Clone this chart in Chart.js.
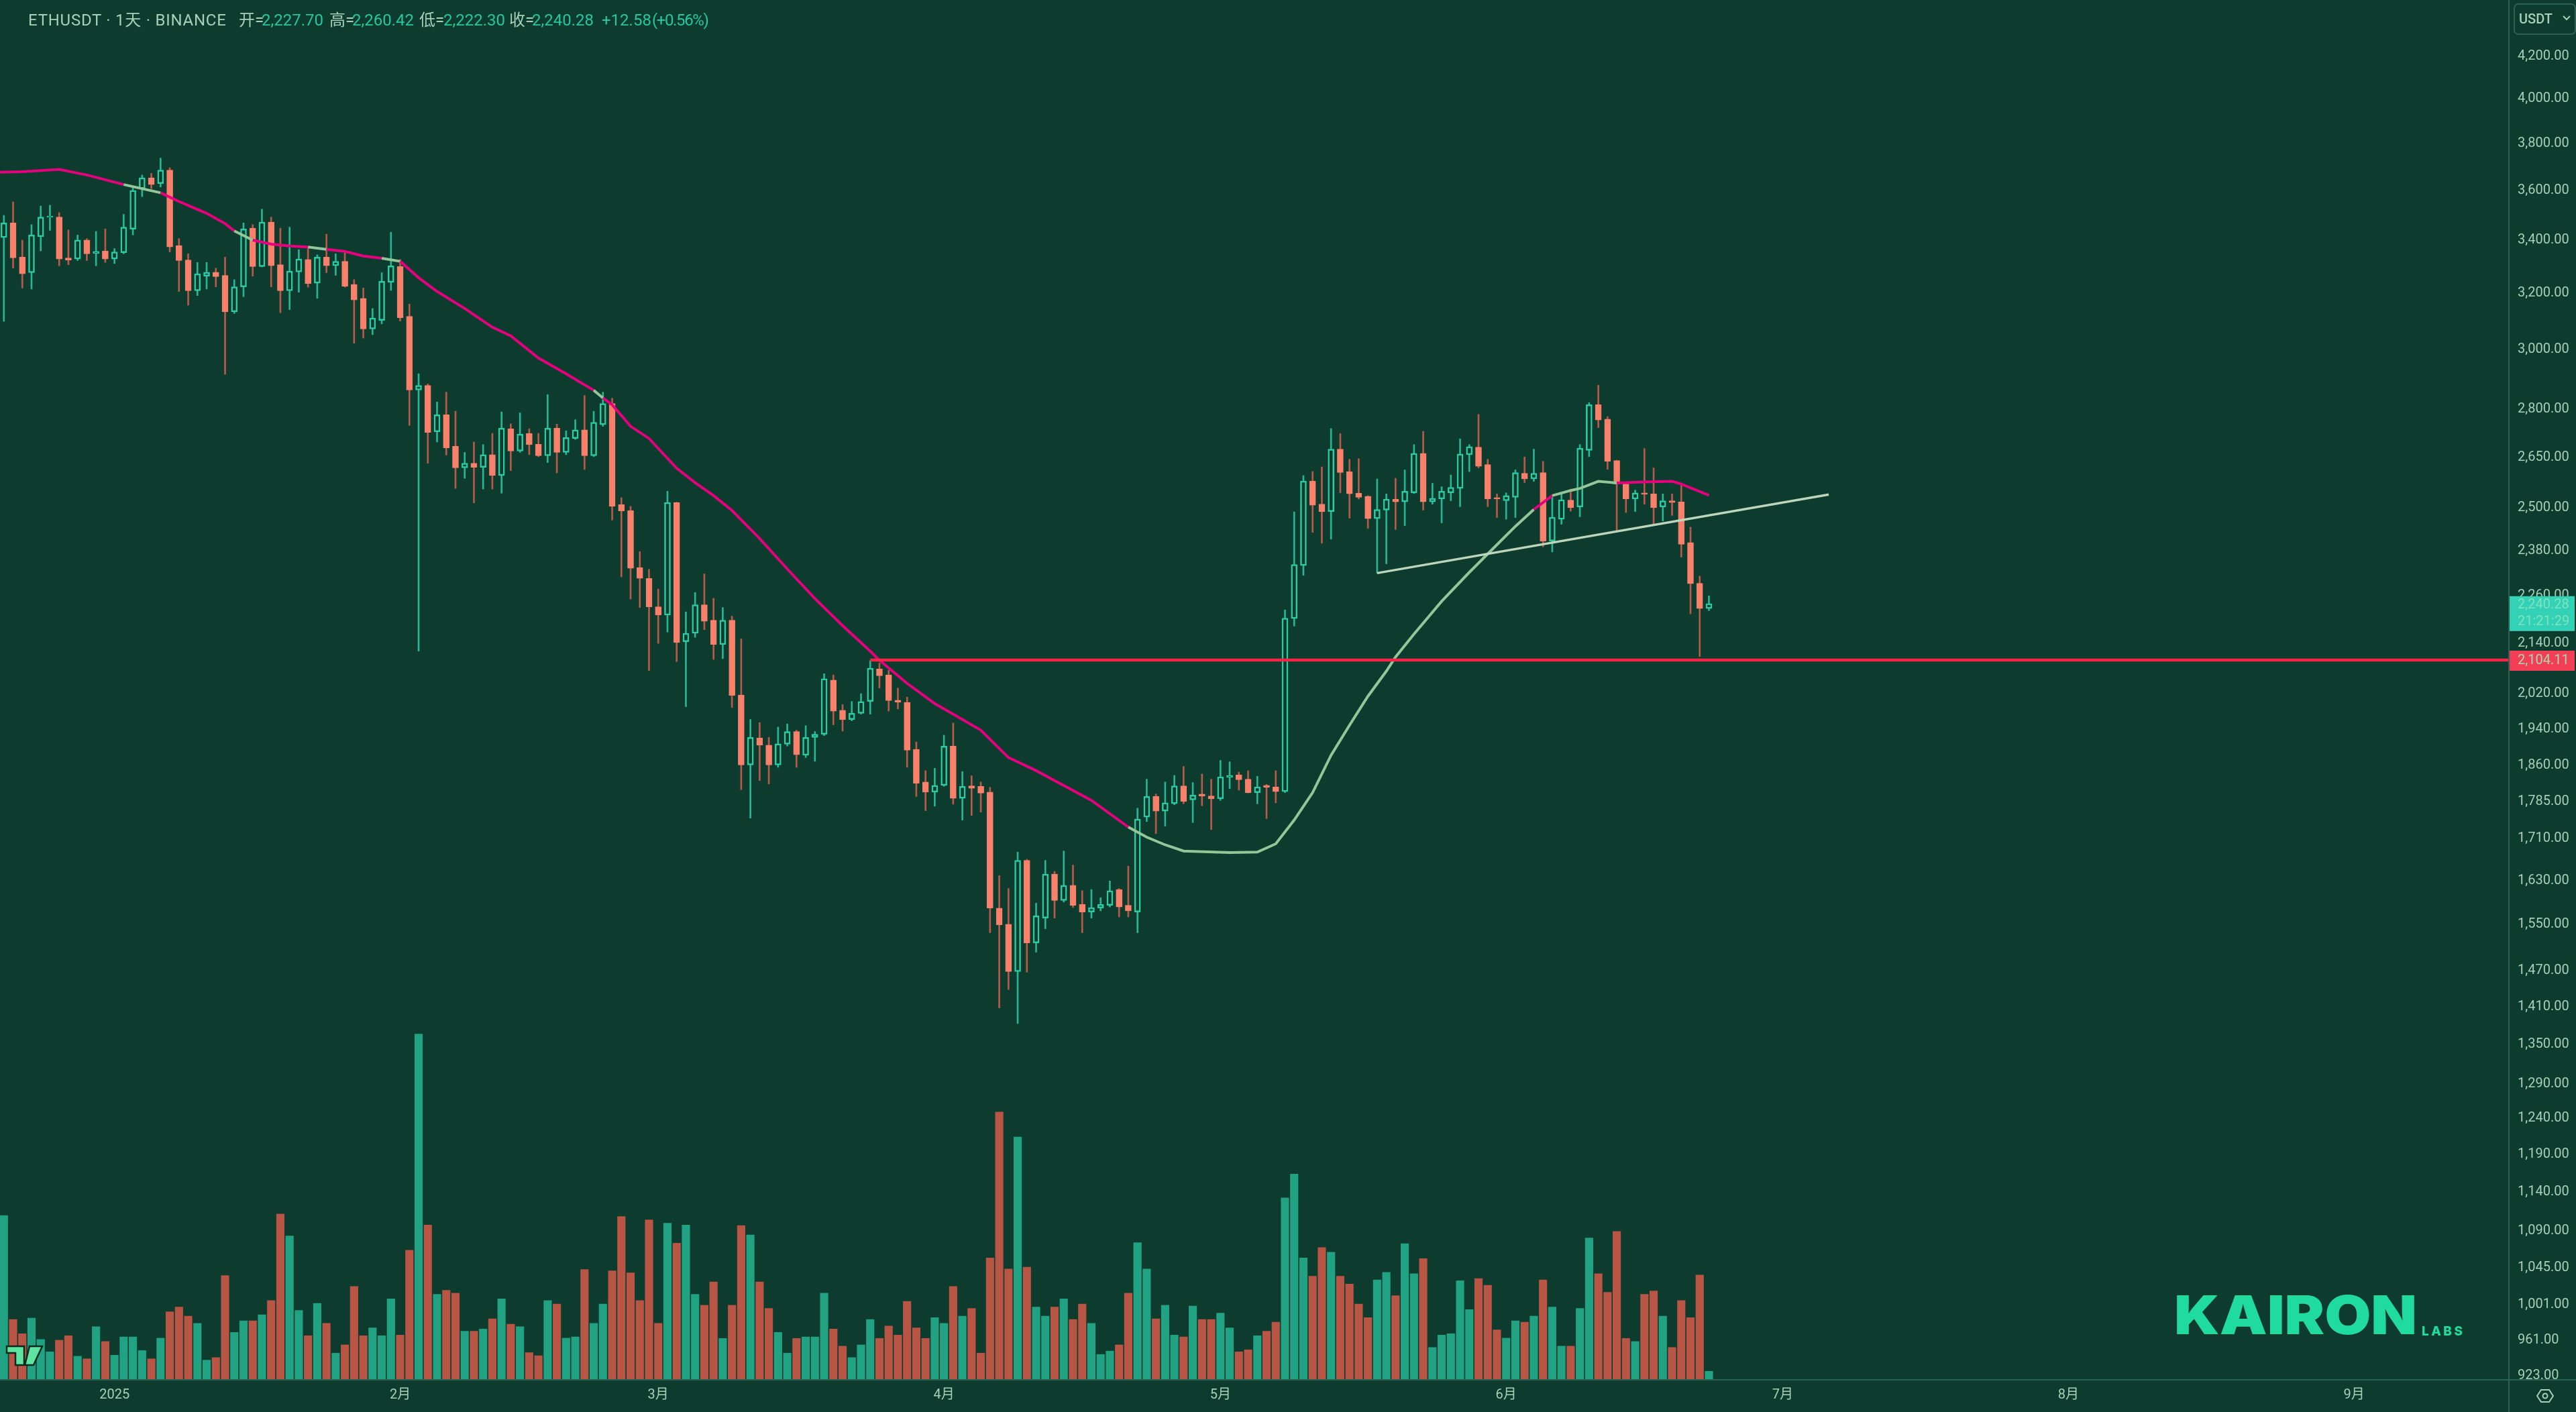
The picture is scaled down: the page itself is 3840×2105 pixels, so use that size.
<!DOCTYPE html>
<html>
<head>
<meta charset="utf-8">
<title>ETHUSDT</title>
<script src="https://cdn.jsdelivr.net/npm/chart.js@4"></script>
<style>
html, body { margin: 0; padding: 0; background: #0d3b2e; overflow: hidden; }
#wrap { position: relative; width: 3840px; height: 2105px; }
#priceChart { position: absolute; left: 0; top: 0; }
.hd { position: absolute; top: 15px; font: 24px Roboto, 'Noto Sans CJK SC', sans-serif; line-height: 30px; color: #a8d0b8; white-space: pre; }
.hd.v { color: #26c6a0; }
#unit { position: absolute; left: 3747px; top: 5px; width: 89px; height: 43px; border: 2px solid #2f6152; border-radius: 7px; box-sizing: content-box;
    font: 500 20px Roboto, sans-serif; color: #a8d0b8; line-height: 43px; text-indent: 6px; }
#brand { position: absolute; left: 3241px; top: 1914px; font: 900 80px Inter, sans-serif; color: #1fdc9e; line-height: 92px; white-space: pre; transform: scaleX(1.115); transform-origin: left center; }
#labs { position: absolute; left: 3610px; top: 1973px; font: 800 19px Inter, sans-serif; color: #1fdc9e; line-height: 24px; letter-spacing: 3.5px; }
svg { position: absolute; }
</style>
</head>
<body>
<div id="wrap">
    <canvas id="priceChart" width="3840" height="2105"></canvas>
    <span class="hd" style="left:42px;letter-spacing:0.75px">ETHUSDT · 1天 · BINANCE</span>
    <span class="hd" style="left:356px">开=</span><span class="hd v" style="left:390px">2,227.70</span>
    <span class="hd" style="left:491px">高=</span><span class="hd v" style="left:525px">2,260.42</span>
    <span class="hd" style="left:625px">低=</span><span class="hd v" style="left:661px">2,222.30</span>
    <span class="hd" style="left:759px">收=</span><span class="hd v" style="left:793px">2,240.28</span>
    <span class="hd v" style="left:897px">+12.58</span><span class="hd v" style="left:972px;letter-spacing:-1.4px">(+0.56%)</span>
    <div id="unit">USDT</div>
    <svg style="left:3820px;top:22px" width="12" height="10"><path d="M1 2 L6 7 L11 2" fill="none" stroke="#a8d0b8" stroke-width="2"/></svg>
    <div id="brand">KAIRON</div>
    <div id="labs">LABS</div>
    <svg style="left:6px;top:2004px" width="60" height="34"><path d="M4 3 H30 V31 H17 V13 H4 Z M38 3 H57 L44 31 H31 Z" fill="#5fe3a0" stroke="#0a2a20" stroke-width="2.5"/></svg>
    <svg style="left:3781px;top:2070px" width="26" height="22"><path d="M7 2 H19 L25 11 L19 20 H7 L1 11 Z" fill="none" stroke="#a8d0b8" stroke-width="2"/><circle cx="13" cy="11" r="3.5" fill="none" stroke="#a8d0b8" stroke-width="2"/></svg>
</div>
<script>
// daily candles, index 0 = 2024-12-20
const openPrices = [3411,3469,3335,3276,3414,3491,3492,3332,3328,3401,3349,3359,3328,3352,3444,3608,3653,3629,3686,3380,
    3324,3209,3263,3278,3266,3132,3223,3448,3299,3472,3306,3209,3279,3326,3237,3335,3302,3319,3232,3181,
    3071,3101,3240,3299,3116,2863,2878,2729,2783,2684,2618,2632,2620,2658,2595,2738,2669,2724,2690,2655,
    2740,2665,2708,2735,2655,2751,2819,2510,2493,2335,2306,2232,2211,2516,2144,2165,2237,2198,2137,2198,
    2017,1861,1920,1904,1861,1906,1934,1882,1921,1928,2052,1982,1961,1975,2002,2078,2064,2005,2000,1895,
    1825,1804,1818,1902,1791,1817,1816,1804,1579,1550,1468,1668,1517,1561,1642,1593,1621,1586,1572,1579,
    1584,1613,1584,1572,1753,1795,1765,1780,1817,1788,1800,1796,1790,1835,1840,1831,1803,1818,1815,1805,
    2202,2340,2579,2511,2490,2675,2607,2543,2534,2470,2494,2526,2518,2544,2662,2518,2526,2544,2557,2658,
    2681,2628,2530,2521,2531,2602,2585,2604,2407,2468,2523,2503,2671,2815,2769,2640,2570,2526,2544,2541,
    2503,2521,2518,2403,2293,2227.70];
const highPrices = [3499,3554,3401,3462,3537,3540,3510,3441,3421,3407,3435,3445,3368,3503,3619,3665,3672,3737,3696,3407,
    3348,3315,3315,3293,3335,3250,3469,3462,3524,3492,3448,3452,3364,3368,3344,3424,3348,3355,3250,3219,
    3144,3276,3432,3326,3160,2917,2883,2824,2856,2794,2665,2697,2689,2724,2792,2754,2789,2738,2724,2848,
    2753,2732,2767,2845,2794,2856,2836,2530,2505,2378,2330,2278,2549,2517,2219,2269,2318,2254,2230,2208,
    2151,1961,1954,1921,1944,1951,1937,1947,1934,2067,2064,1995,2002,2020,2098,2092,2075,2033,2012,1911,
    1849,1854,1926,1953,1847,1838,1825,1814,1639,1615,1684,1670,1588,1668,1647,1686,1659,1611,1613,1598,
    1629,1615,1657,1771,1831,1800,1825,1839,1858,1824,1842,1831,1871,1868,1846,1849,1837,1820,1849,2224,
    2489,2595,2607,2621,2739,2723,2644,2646,2536,2585,2541,2587,2612,2689,2730,2572,2562,2597,2707,2689,
    2784,2644,2541,2544,2612,2651,2675,2638,2531,2541,2555,2689,2822,2879,2777,2641,2573,2552,2677,2618,
    2541,2541,2567,2446,2312,2260.42];
const lowPrices = [3098,3293,3219,3215,3359,3439,3302,3306,3322,3322,3302,3315,3311,3348,3421,3575,3608,3615,3355,3206,
    3156,3191,3215,3223,2915,3126,3187,3263,3298,3223,3129,3140,3203,3222,3181,3276,3266,3222,3021,3039,
    3051,3089,3210,3099,2749,2121,2632,2697,2657,2557,2587,2515,2555,2555,2543,2610,2665,2658,2652,2634,
    2603,2658,2705,2613,2652,2746,2466,2310,2252,2230,2074,2140,2168,2096,1990,2155,2174,2101,2103,1988,
    1809,1751,1828,1821,1856,1902,1856,1877,1869,1925,1949,1935,1958,1973,1973,2033,1980,1985,1856,1795,
    1766,1775,1816,1779,1747,1756,1763,1535,1408,1438,1383,1467,1501,1542,1561,1590,1580,1535,1561,1574,
    1581,1563,1563,1535,1744,1720,1735,1778,1780,1742,1776,1728,1787,1811,1808,1802,1780,1750,1782,1803,
    2183,2314,2431,2401,2412,2544,2471,2526,2442,2320,2345,2439,2450,2542,2494,2511,2458,2521,2504,2607,
    2618,2504,2473,2468,2473,2574,2578,2391,2377,2454,2491,2475,2652,2742,2614,2437,2487,2490,2511,2454,
    2463,2479,2363,2214,2108,2222.30];
const closePrices = [3469,3332,3272,3421,3492,3496,3328,3324,3401,3348,3357,3328,3355,3452,3601,3653,3625,3686,3374,3322,
    3209,3272,3278,3261,3132,3223,3445,3299,3472,3302,3209,3282,3328,3235,3335,3302,3319,3225,3175,3071,
    3110,3244,3302,3111,2863,2878,2727,2783,2679,2618,2632,2620,2658,2595,2740,2669,2722,2689,2655,2740,
    2665,2711,2735,2655,2759,2819,2505,2492,2333,2306,2232,2211,2516,2142,2165,2237,2195,2137,2198,2016,
    1861,1921,1904,1861,1907,1934,1883,1921,1928,2055,1980,1961,1975,2002,2080,2062,2004,2000,1893,1822,
    1804,1818,1902,1791,1816,1812,1802,1579,1549,1468,1668,1517,1565,1642,1593,1621,1584,1572,1580,1586,
    1611,1581,1574,1749,1795,1765,1782,1817,1785,1798,1796,1790,1836,1839,1830,1803,1815,1814,1805,2203,
    2343,2579,2508,2490,2675,2604,2541,2531,2470,2496,2526,2518,2549,2662,2518,2528,2549,2560,2660,2683,
    2623,2526,2526,2536,2604,2585,2602,2407,2474,2524,2501,2678,2815,2766,2638,2570,2526,2544,2540,2501,
    2521,2516,2398,2292,2227.70,2240.28];
// traded volume in thousands, read against the bottom of the pane
const volumes = [635,233,178,238,156,108,153,170,91,81,205,148,95,166,166,113,81,161,263,281,
    246,218,76,86,403,183,228,228,251,306,641,556,268,170,295,218,103,135,361,170,
    201,170,313,173,501,1336,598,330,346,335,188,188,196,236,313,215,205,105,93,306,
    293,161,166,426,218,293,421,631,413,306,618,218,605,528,598,330,288,378,160,288,
    596,560,378,276,183,103,160,166,166,335,196,130,86,135,233,160,208,173,303,201,
    160,240,218,361,246,276,103,471,1035,428,938,435,281,246,281,313,233,293,218,98,
    111,135,335,530,428,236,288,173,166,285,233,233,258,201,108,116,170,188,223,703,
    795,471,400,511,493,400,370,293,240,386,415,325,526,410,468,125,173,178,383,271,
    391,365,193,161,228,223,246,386,281,130,130,276,548,410,338,573,160,148,330,343,
    246,125,306,240,405,33];

// moving average, vertices
const maIndex = [-1,2,6,9,13,17,19,22,24,25,27,29,31,33,35,37,39,41,43,45,47,50,53,55,58,61,64,65,66,68,70,73,75,77,79,82,85,88,91,94,95,98,101,102,106,109,112,118,122,124,126,128,133,136,138,140,142,144,146,148,150,151,153,156,159,162,164,166,168,170,171,173,175,178,181,182,185];
const maValues = [3676,3679,3689,3665,3625,3591,3555,3507,3466,3437,3401,3385,3378,3374,3365,3357,3339,3331,3319,3257,3206,3144,3077,3047,2970,2917,2862,2837,2815,2746,2708,2617,2574,2536,2493,2414,2331,2253,2184,2121,2099,2044,1997,1985,1937,1877,1849,1787,1733,1713,1698,1686,1683,1684,1700,1747,1803,1882,1948,2014,2073,2107,2163,2246,2322,2397,2448,2496,2536,2551,2557,2578,2573,2576,2578,2570,2537];
// index ranges where the average is drawn in its rising colour
const maRisingFrom = [13,25,33,41,64,122,168,170];
const maRisingTo = [17,27,35,43,65,166,169,175];

const trendIndex = [149,198];
const trendValues = [2320,2539];
const supportIndex = [94,272];
const supportValues = [2099.5,2099.5];

const yTickValues = [4200,4000,3800,3600,3400,3200,3000,2800,2650,2500,2380,2260,2140,2020,1940,1860,1785,1710,1630,1550,1470,1410,1350,1290,1240,1190,1140,1090,1045,1001,961,923];
const monthTickIndex = [12,43,71,102,132,163,193,224,255];
const monthTickLabels = ['2025','2月','3月','4月','5月','6月','7月','8月','9月'];
const supportLabel = '2,104.11';
const lastPriceLabel = '2,240.28';
const countdownLabel = '21:21:29';

const BG = '#0d3b2e';
const UP = '#2bcba3';
const UP_WICK = '#27b594';
const DOWN = '#f9806b';
const DOWN_WICK = '#b85a4b';
const VOL_UP = '#20a283';
const VOL_DOWN = '#b85545';
const AXIS = '#2f6152';
const PINK = '#e6007e';
const SAGE = '#93c698';
const SUPPORT = '#f5264a';
const TEXT = '#a8d0b8';
const FONT = "Roboto, 'Noto Sans CJK SC', sans-serif";

const isUp = (i) => closePrices[i] >= openPrices[i];
const dayPoints = (values) => values.map((v, i) => ({ x: i, y: v }));
const rangePoints = (a, b) => a.map((v, i) => ({ x: i, y: [v, b[i]] }));
const maIsRising = (x) => maRisingFrom.some((from, i) => x >= from && x < maRisingTo[i]);

// price pane furniture which Chart.js has no option for
const overlay = {
    id: 'overlay',
    afterDatasetsDraw(c) {
        // covers the tick label that runs under the time axis
        const g = c.ctx;
        const area = c.chartArea;
        g.fillStyle = BG;
        g.fillRect(area.right, area.bottom, c.width - area.right, c.height - area.bottom);
    },
    afterDraw(c) {
        const g = c.ctx;
        const area = c.chartArea;
        const y = c.scales.y;
        g.save();
        g.strokeStyle = AXIS;
        g.lineWidth = 2;
        g.beginPath();
        g.moveTo(0, area.bottom);
        g.lineTo(c.width, area.bottom);
        g.moveTo(area.right, 0);
        g.lineTo(area.right, c.height);
        g.stroke();

        const lastY = y.getPixelForValue(closePrices[closePrices.length - 1]);
        g.fillStyle = '#33d1b5';
        g.fillRect(area.right + 1, lastY - 11, 97, 52);
        g.fillStyle = '#7fe3c0';
        g.font = '20px ' + FONT;
        g.textBaseline = 'middle';
        g.fillText(lastPriceLabel, area.right + 13, lastY + 2);
        g.fillText(countdownLabel, area.right + 13, lastY + 27);

        const lineY = y.getPixelForValue(supportValues[0]);
        g.fillStyle = '#f23f56';
        g.fillRect(area.right + 1, lineY - 14, 97, 30);
        g.fillStyle = '#a8d8b0';
        g.fillText(supportLabel, area.right + 13, lineY + 1);
        g.restore();
    },
};

new Chart(document.getElementById('priceChart').getContext('2d'), {
    type: 'bar',
    data: {
        datasets: [
            {
                type: 'line',
                data: trendIndex.map((x, i) => ({ x, y: trendValues[i] })),
                yAxisID: 'y',
                borderColor: '#bcd5bb',
                borderWidth: 3.5,
                pointRadius: 0,
                order: 0,
            },
            {
                type: 'line',
                data: supportIndex.map((x, i) => ({ x, y: supportValues[i] })),
                yAxisID: 'y',
                borderColor: SUPPORT,
                borderWidth: 4.5,
                pointRadius: 0,
                order: 0,
            },
            {
                type: 'line',
                data: maIndex.map((x, i) => ({ x, y: maValues[i] })),
                yAxisID: 'y',
                borderWidth: 4,
                pointRadius: 0,
                order: 0,
                segment: {
                    borderColor: (ctx) => (maIsRising(ctx.p0.parsed.x) ? SAGE : PINK),
                },
            },
            {
                data: rangePoints(openPrices, closePrices),
                yAxisID: 'y',
                grouped: false,
                barThickness: 9,
                borderWidth: 2.5,
                borderSkipped: false,
                backgroundColor: (ctx) => (isUp(ctx.dataIndex) ? BG : DOWN),
                borderColor: (ctx) => (isUp(ctx.dataIndex) ? UP : DOWN),
                order: 1,
            },
            {
                data: rangePoints(lowPrices, highPrices),
                yAxisID: 'y',
                grouped: false,
                barThickness: 2,
                borderWidth: 0,
                backgroundColor: (ctx) => (isUp(ctx.dataIndex) ? UP_WICK : DOWN_WICK),
                order: 2,
            },
            {
                data: dayPoints(volumes),
                yAxisID: 'yVol',
                grouped: false,
                barThickness: 11.5,
                borderWidth: 0,
                backgroundColor: (ctx) => (isUp(ctx.dataIndex) ? VOL_UP : VOL_DOWN),
                order: 3,
            },
        ],
    },
    options: {
        responsive: false,
        animation: false,
        devicePixelRatio: 1,
        layout: { padding: 0, autoPadding: false },
        plugins: { legend: { display: false }, title: { display: false }, tooltip: { enabled: false } },
        scales: {
            x: {
                type: 'linear',
                offset: false,
                bounds: 'data',
                min: -0.42,
                max: 271.8,
                z: 1,
                grid: { display: false, drawTicks: false },
                border: { display: false },
                afterBuildTicks: (axis) => { axis.ticks = monthTickIndex.map((value) => ({ value })); },
                afterFit: (axis) => {
                    axis.height = 48;
                    axis.paddingLeft = 0;
                    axis.paddingRight = 0;
                },
                ticks: {
                    autoSkip: false,
                    maxRotation: 0,
                    padding: 11,
                    color: TEXT,
                    font: { family: FONT, size: 20 },
                    callback: (value) => monthTickLabels[monthTickIndex.indexOf(value)],
                },
            },
            y: {
                type: 'logarithmic',
                position: 'right',
                bounds: 'data',
                min: 918.5,
                max: 4481,
                grid: { display: false, drawTicks: false },
                border: { display: false },
                afterBuildTicks: (axis) => { axis.ticks = yTickValues.map((value) => ({ value })); },
                afterFit: (axis) => {
                    axis.width = 100;
                    axis.paddingTop = 0;
                    axis.paddingBottom = 0;
                },
                ticks: {
                    autoSkip: false,
                    padding: 13,
                    color: TEXT,
                    font: { family: FONT, size: 20 },
                    callback: (value) => value.toLocaleString('en-US', { minimumFractionDigits: 2 }),
                },
            },
            yVol: {
                type: 'linear',
                display: false,
                bounds: 'data',
                min: 0,
                max: 5332,
            },
        },
    },
    plugins: [overlay],
});
</script>
</body>
</html>
